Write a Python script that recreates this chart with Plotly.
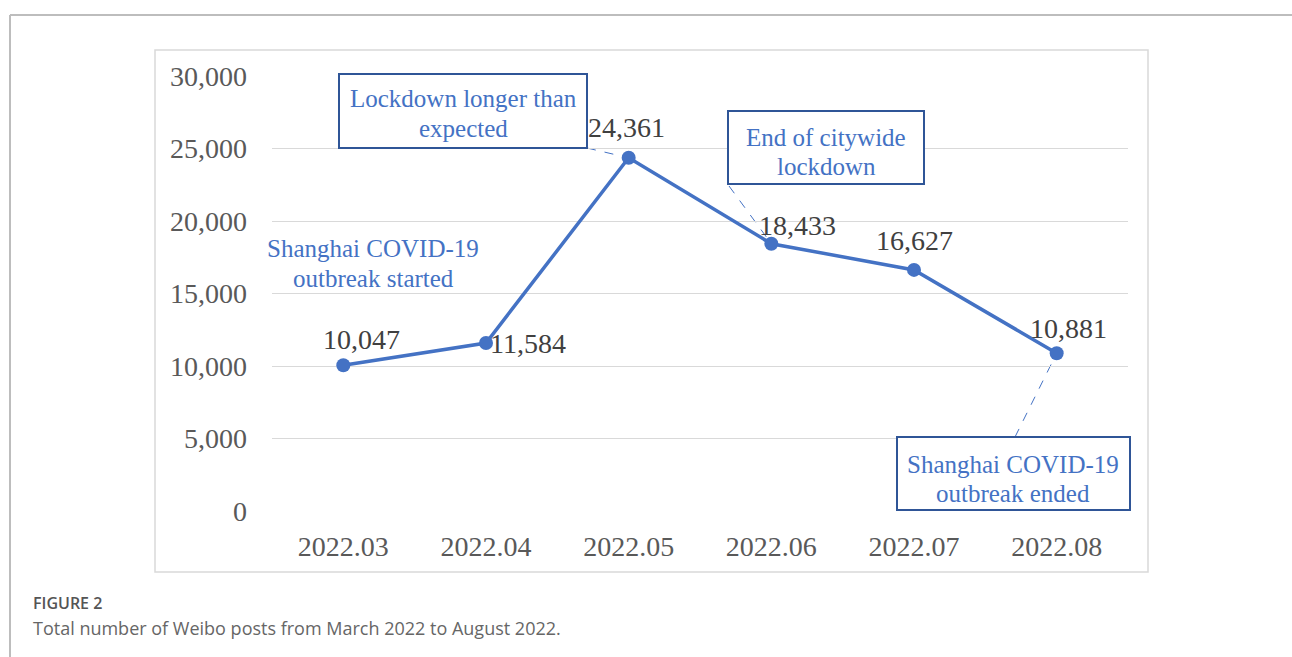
import plotly.graph_objects as go

months = ["2022.03", "2022.04", "2022.05", "2022.06", "2022.07", "2022.08"]
posts = [10047, 11584, 24361, 18433, 16627, 10881]
y_ticks = [0, 5000, 10000, 15000, 20000, 25000, 30000]
y_tick_text = ["0", "5,000", "10,000", "15,000", "20,000", "25,000", "30,000"]

W, H = 1292, 657
PL, PR, PT, PB = 272, 1128, 76, 511  # plot area in px
YMAX = 30000

def xp(px):
    return (px - PL) / (PR - PL)

def yp(py):
    return (PB - py) / (PB - PT)

def xd(px):
    return (px - PL) / ((PR - PL) / len(months)) - 0.5

def yd(py):
    return (PB - py) / (PB - PT) * YMAX

BLUE = "#4472C4"
DARKBLUE = "#2F5597"
SERIF = "Liberation Serif, Times New Roman, serif"

fig = go.Figure()
fig.add_trace(go.Scatter(
    x=list(range(len(months))), y=posts, mode="lines+markers",
    line=dict(color=BLUE, width=3.5),
    marker=dict(color=BLUE, size=14),
    hoverinfo="skip", showlegend=False,
))

annotations = []
# data labels (offsets in px)
label_shift = [(18, 26), (42, 0), (-2, 30), (26, 18), (0, 29), (12, 25)]
for i, (v, (dx, dy)) in enumerate(zip(posts, label_shift)):
    annotations.append(dict(
        x=i, y=v, xref="x", yref="y", text=f"{v:,}", showarrow=False,
        xanchor="center", yanchor="middle", xshift=dx, yshift=dy,
        font=dict(family=SERIF, size=28, color="#404040"),
    ))

# callout text lines
callouts = [
    ("Shanghai COVID-19", 373, 248), ("outbreak started", 373, 278),
    ("Lockdown longer than", 463, 99), ("expected", 463, 128),
    ("End of citywide", 826, 137), ("lockdown", 826, 166),
    ("Shanghai COVID-19", 1013, 464), ("outbreak ended", 1013, 493),
]
for txt, cx, cy in callouts:
    annotations.append(dict(
        x=xp(cx), y=yp(cy), xref="paper", yref="paper", text=txt,
        showarrow=False, xanchor="center", yanchor="middle",
        font=dict(family=SERIF, size=25, color=BLUE),
    ))

# caption
annotations.append(dict(
    x=xp(31), y=yp(603), xref="paper", yref="paper", text="FIGURE 2",
    showarrow=False, xanchor="left", yanchor="middle",
    font=dict(family="Open Sans, sans-serif", size=16, color="#555555", weight=600),
))
annotations.append(dict(
    x=xp(31), y=yp(628), xref="paper", yref="paper",
    text="Total number of Weibo posts from March 2022 to August 2022.",
    showarrow=False, xanchor="left", yanchor="middle",
    font=dict(family="Open Sans, sans-serif", size=18, color="#666666"),
))

shapes = []
# outer frame (top + left)
shapes.append(dict(type="line", xref="paper", yref="paper",
                   x0=xp(10), x1=xp(W + 5), y0=yp(15), y1=yp(15),
                   line=dict(color="#bdbdbd", width=2)))
shapes.append(dict(type="line", xref="paper", yref="paper",
                   x0=xp(10), x1=xp(10), y0=yp(15), y1=yp(H + 5),
                   line=dict(color="#bdbdbd", width=2)))
# inner chart frame
shapes.append(dict(type="rect", xref="paper", yref="paper",
                   x0=xp(155), x1=xp(1148), y0=yp(50), y1=yp(572),
                   line=dict(color="#d9d9d9", width=1.5), layer="below"))
# callout boxes
for x0, y0, x1, y1 in [(339, 74, 587, 148), (728, 111, 924, 184), (897, 437, 1130, 510)]:
    shapes.append(dict(type="rect", xref="paper", yref="paper",
                       x0=xp(x0), x1=xp(x1), y0=yp(y0), y1=yp(y1),
                       line=dict(color=DARKBLUE, width=2), fillcolor="white"))
# dashed leader lines from boxes to points
leaders = [(587, 148, 2), (729, 186, 3), (1015, 437, 5)]
for sx, sy, idx in leaders:
    shapes.append(dict(type="line", xref="x", yref="y",
                       x0=xd(sx), y0=yd(sy), x1=idx, y1=posts[idx],
                       line=dict(color=BLUE, width=1, dash="dash"), layer="below"))

fig.update_layout(
    width=W, height=H,
    margin=dict(l=PL, r=W - PR, t=PT, b=H - PB, pad=0),
    paper_bgcolor="white", plot_bgcolor="white",
    xaxis=dict(
        range=[-0.5, len(months) - 0.5], tickmode="array",
        tickvals=list(range(len(months))), ticktext=months,
        showgrid=False, zeroline=False, showline=False, ticks="",
        tickfont=dict(family=SERIF, size=28, color="#595959"),
        ticklabelstandoff=16, fixedrange=True,
    ),
    yaxis=dict(
        range=[0, YMAX], tickmode="array", tickvals=y_ticks, ticktext=y_tick_text,
        showgrid=True, gridcolor="#d9d9d9", gridwidth=1.3,
        zeroline=False, showline=False, ticks="",
        tickfont=dict(family=SERIF, size=28, color="#595959"),
        ticklabelstandoff=24, fixedrange=True,
    ),
    annotations=annotations, shapes=shapes,
    showlegend=False,
)

fig.write_html("out.html", config={"displayModeBar": False})
